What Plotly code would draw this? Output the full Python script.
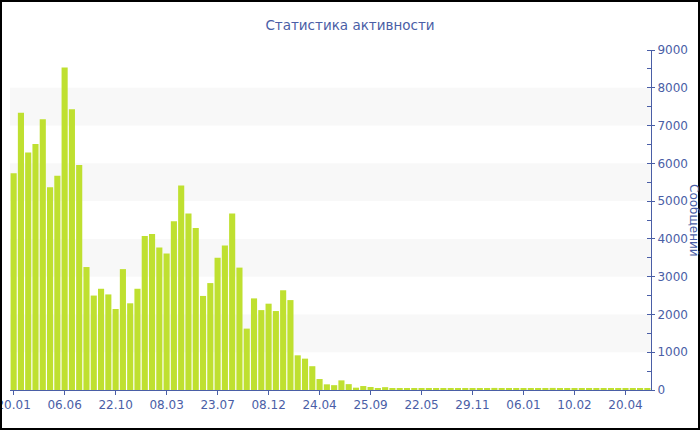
import plotly.graph_objects as go

title_text = "Статистика активности"
y_title = "Сообщений"

tick_labels = ["20.01", "06.06", "22.10", "08.03", "23.07", "08.12", "24.04",
               "25.09", "22.05", "29.11", "06.01", "10.02", "20.04"]
tick_step = 7

values = [5740, 7340, 6290, 6510, 7170, 5370, 5670, 8540, 7430, 5955,
          3255, 2500, 2680, 2530, 2145, 3200, 2295, 2680, 4075, 4130,
          3775, 3615, 4470, 5410, 4675, 4290, 2490, 2830, 3500, 3825,
          4670, 3240, 1625, 2425, 2115, 2285, 2090, 2640, 2380, 918,
          830, 630, 290, 150, 128, 255, 155, 62, 105, 80,
          48, 75, 44, 44, 44, 50, 35, 40, 44, 44,
          40, 35, 38, 35, 30, 35, 55, 35, 30, 40,
          38, 50, 35, 30, 55, 45, 35, 30, 35, 30,
          28, 32, 30, 35, 30, 32, 50, 45]

bands = [(1000, 2000), (3000, 4000), (5000, 6000), (7000, 8000)]

x_idx = list(range(len(values)))
tickvals = [i * tick_step for i in range(len(tick_labels))]

blue = "#4a5ea6"
font_family = "DejaVu Sans"

fig = go.Figure()
fig.add_trace(go.Bar(
    x=x_idx, y=values,
    marker=dict(color="#bfe030", line=dict(width=0)),
    hoverinfo="y",
))

shapes = []
for lo, hi in bands:
    shapes.append(dict(type="rect", xref="paper", yref="y", x0=0, x1=1, y0=lo, y1=hi,
                       fillcolor="#f8f8f8", line=dict(width=0), layer="below"))

# outer border of the chart
W, H = 700, 430
ml, mr, mt, mb = 10, 49, 50, 40
pw, ph = W - ml - mr, H - mt - mb
shapes.append(dict(type="rect", xref="paper", yref="paper",
                   x0=(1 - ml) / pw, x1=(W - 1 - ml) / pw,
                   y0=(ph + mt - (H - 1)) / ph, y1=(ph + mt - 1) / ph,
                   line=dict(color="black", width=2), fillcolor="rgba(0,0,0,0)", layer="above"))

fig.update_layout(
    width=W, height=H,
    margin=dict(l=ml, r=mr, t=mt, b=mb, autoexpand=False),
    paper_bgcolor="white", plot_bgcolor="white",
    font=dict(family=font_family, color=blue, size=12),
    title=dict(text=title_text, x=0.5, xanchor="center", xref="container",
               y=1 - 25 / H, yanchor="middle", yref="container",
               font=dict(size=13.5, color=blue, family=font_family)),
    bargap=0.16,
    showlegend=False,
    shapes=shapes,
    annotations=[dict(text=y_title, xref="paper", yref="paper", x=(694 - ml) / pw, y=0.5,
                      textangle=90, showarrow=False, font=dict(size=12, color=blue, family=font_family),
                      xanchor="center", yanchor="middle")],
)

fig.update_xaxes(
    range=[-0.5, len(values) - 0.5],
    tickmode="array", tickvals=tickvals, ticktext=tick_labels,
    showline=True, linecolor=blue, linewidth=1,
    ticks="outside", ticklen=4, tickcolor=blue,
    showgrid=False, zeroline=False, automargin=False,
    ticklabeloverflow="allow",
    tickfont=dict(size=12, color=blue),
)
fig.update_yaxes(
    side="right", range=[0, 9000], dtick=1000,
    showline=True, linecolor=blue, linewidth=1,
    ticks="outside", ticklen=3, tickcolor=blue,
    minor=dict(dtick=500, ticks="inside", ticklen=4, tickcolor=blue, showgrid=False),
    showgrid=False, zeroline=False, automargin=False,
    ticklabeloverflow="allow",
    tickfont=dict(size=12, color=blue),
)

fig.write_html("out.html", config={"displayModeBar": False},
               post_script="document.body.style.margin='0';document.body.style.overflow='hidden';")
